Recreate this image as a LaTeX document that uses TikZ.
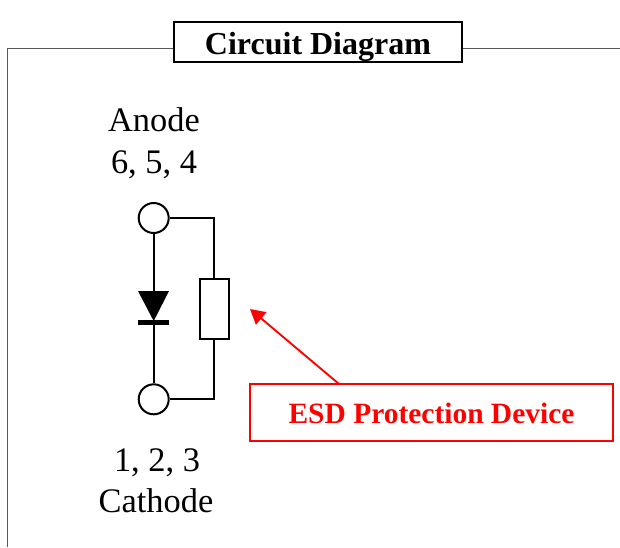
\documentclass[tikz,border=0pt]{standalone}
\usepackage{fontspec}
\usetikzlibrary{arrows.meta}
\setmainfont{Liberation Serif}
\tikzset{x=0.75pt,y=-0.75pt,
 wire/.style={draw=black,line width=1.5pt},
 frameline/.style={draw=black!65,line width=0.8pt},
 terminal/.style={circle,draw=black,fill=white,line width=1.5pt,minimum size=22.5pt,inner sep=0pt},
 lbl/.style={font=\fontsize{25.8pt}{25.8pt}\selectfont,text=black,inner sep=0pt,anchor=base},
 titlebox/.style={draw=black,line width=1.5pt,fill=white,minimum width=216pt,minimum height=30pt,inner sep=0pt,text height=18pt,text depth=0pt,font=\fontsize{24pt}{24pt}\selectfont\bfseries},
 esdbox/.style={draw=red,line width=1.5pt,fill=white,text=red,minimum width=272pt,minimum height=43pt,inner sep=0pt,text height=17.2pt,text depth=0pt,font=\fontsize{22.1pt}{22.1pt}\selectfont\bfseries},
 res/.style={draw=black,fill=white,line width=1.5pt,minimum width=22pt,minimum height=45pt,inner sep=0pt}}
\begin{document}
\begin{tikzpicture}
\useasboundingbox (0,0) rectangle (620,547);
\coordinate (fb) at (7.5,547);
\coordinate (ftl) at (7.5,48.5);
\coordinate (fr) at (620,48.5);
\draw[frameline] (fb) -- (ftl) -- (fr);
\node[titlebox] (title) at (318,42) {Circuit Diagram};
\node[lbl] (anode) at (154,131.5) {Anode};
\node[lbl] (anums) at (154,173) {6, 5, 4};
\node[terminal] (top) at (153.7,218) {};
\node[terminal] (bot) at (153.7,399.3) {};
\node[res] (r) at (214.3,309) {};
\coordinate (tr) at (214.3,218);
\coordinate (br) at (214.3,399.3);
\draw[wire] (top) -- (tr) -- (r.north);
\draw[wire] (bot) -- (br) -- (r.south);
\coordinate (dtop) at (153.7,291);
\coordinate (dbot) at (153.7,322.5);
\draw[wire] (top) -- (dtop);
\draw[wire] (dbot) -- (bot);
\fill[black] (138,291) -- (169,291) -- (153.7,321) -- cycle;
\draw[black,line width=3.75pt] (138,322.5) -- (169,322.5);
\node[lbl] (cnums) at (157,471) {1, 2, 3};
\node[lbl] (cathode) at (156,512.5) {Cathode};
\node[esdbox] (esd) at (431.5,412.5) {ESD Protection Device};
\coordinate (esdarrow) at (339,384);
\coordinate (tip) at (250,309);
\draw[draw=red,line width=1.4pt,-{Triangle[length=11pt,width=12pt,fill=red]}] (esdarrow) -- (tip);
\end{tikzpicture}
\end{document}
